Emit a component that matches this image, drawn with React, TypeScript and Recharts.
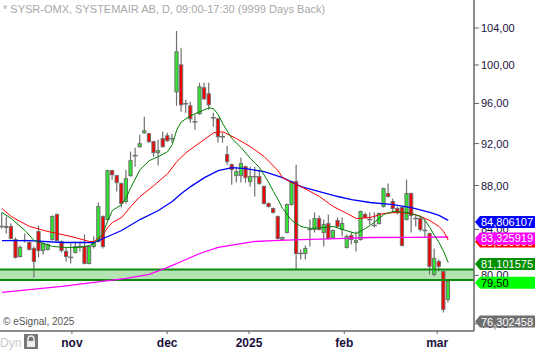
import {
    ComposedChart,
    Bar,
    Line,
    XAxis,
    YAxis,
    ReferenceArea,
    ReferenceLine
} from 'recharts'

// daily candles, SYSR (oct 2024 - mar 2025)
const OPEN = [
    84.26, 84.26, 84.26, 83.10, 81.62, 83.01, 82.84, 82.32, 83.81, 82.14,
    82.23, 83.10, 85.34, 82.93, 82.06, 81.54, 81.97, 82.49, 82.49, 81.02,
    82.49, 82.93, 85.16, 84.88, 89.40, 88.93, 88.18, 86.52, 88.93, 90.83,
    91.70, 93.06, 92.97, 92.19, 91.12, 92.48, 92.77, 92.48, 97.19, 100.01,
    95.97, 95.76, 94.15, 94.96, 97.61, 96.99, 94.55, 94.45, 92.67, 90.93,
    89.97, 88.93, 88.93, 89.78, 88.36, 88.83, 88.83, 87.90, 86.34, 85.88,
    85.16, 83.10, 83.72, 86.24, 88.36, 81.88, 81.88, 83.99, 83.99, 84.97,
    83.72, 84.52, 83.28, 84.79, 83.99, 82.41, 83.46, 82.84, 83.10, 85.34,
    84.88, 84.35, 84.52, 86.06, 87.25, 86.52, 85.88, 85.97, 84.88, 87.25,
    84.97, 84.97, 83.90, 83.63, 80.08, 81.19, 80.34, 77.99
]
const HIGH = [
    85.52, 85.16, 84.52, 83.28, 82.58, 83.63, 83.01, 82.49, 84.35, 82.84,
    82.75, 85.25, 85.43, 83.01, 82.41, 82.75, 82.93, 82.93, 83.55, 82.58,
    83.37, 86.43, 85.25, 89.49, 89.49, 89.02, 88.27, 89.49, 91.22, 91.60,
    92.87, 94.66, 93.06, 92.28, 92.38, 93.16, 93.06, 92.97, 103.67, 101.83,
    96.37, 96.17, 94.86, 98.12, 98.12, 98.12, 95.06, 94.55, 93.06, 91.80,
    90.07, 89.78, 90.64, 89.88, 89.78, 89.78, 89.49, 87.99, 86.43, 85.97,
    85.25, 83.37, 86.34, 88.46, 89.97, 82.23, 82.58, 84.88, 85.52, 85.25,
    84.88, 85.34, 83.99, 85.06, 85.06, 83.55, 83.72, 83.81, 85.70, 85.52,
    85.52, 85.52, 85.52, 87.81, 88.18, 86.79, 86.06, 86.06, 88.55, 87.34,
    85.25, 85.16, 84.88, 83.72, 82.32, 81.36, 80.42, 79.66
]
const LOW = [
    84.08, 83.63, 83.10, 81.45, 81.54, 82.84, 82.14, 79.83, 81.54, 81.80,
    82.14, 83.01, 82.93, 81.97, 81.19, 81.02, 81.88, 82.06, 80.94, 80.94,
    82.32, 82.84, 82.32, 84.79, 88.55, 87.44, 85.97, 86.34, 88.83, 89.78,
    91.60, 92.97, 92.09, 90.74, 89.88, 91.60, 92.19, 92.09, 95.76, 95.16,
    95.06, 94.05, 93.36, 94.86, 96.37, 95.36, 93.66, 92.09, 92.09, 89.97,
    88.08, 88.27, 88.27, 88.27, 87.90, 86.98, 88.08, 86.24, 85.97, 85.43,
    83.10, 83.01, 83.63, 86.15, 80.51, 81.36, 81.36, 82.49, 83.72, 83.90,
    82.49, 83.10, 83.19, 84.17, 83.37, 82.32, 82.67, 82.06, 83.01, 84.97,
    84.43, 84.17, 84.43, 85.97, 86.88, 85.52, 85.34, 82.49, 84.79, 83.72,
    84.26, 83.81, 83.28, 80.08, 79.91, 80.34, 76.92, 77.74
]
const CLOSE = [
    84.26, 84.22, 83.19, 81.54, 82.41, 83.01, 82.23, 81.19, 82.14, 82.75,
    82.67, 85.16, 83.01, 82.14, 81.62, 81.54, 82.49, 82.49, 81.02, 82.49,
    82.75, 86.06, 82.49, 89.40, 89.02, 88.27, 86.34, 88.64, 90.35, 90.83,
    91.99, 93.26, 92.19, 91.12, 91.31, 91.70, 92.28, 92.48, 101.40, 95.86,
    95.97, 94.45, 94.15, 97.71, 96.47, 95.86, 94.55, 92.67, 92.67, 90.26,
    89.49, 89.30, 90.07, 88.74, 88.83, 88.83, 88.18, 86.34, 86.06, 85.52,
    83.19, 83.28, 86.24, 88.36, 81.88, 81.88, 82.32, 83.99, 84.97, 83.99,
    84.43, 83.19, 83.90, 84.26, 84.52, 83.37, 83.10, 83.01, 85.61, 85.06,
    84.88, 84.35, 85.43, 87.71, 86.98, 85.88, 85.52, 82.58, 87.25, 85.25,
    84.97, 83.99, 83.90, 80.77, 81.45, 80.77, 77.17, 79.50
]

// moving averages as [candle index, value]
const MA_FAST = [
    [0, 85.52], [2, 84.97], [5, 83.9], [7, 83.01], [9, 82.75], [11, 82.49], [14, 82.41],
    [17, 82.41], [19, 82.58], [20, 82.75], [21, 83.1], [22, 83.72], [23, 84.79], [24, 85.7],
    [26, 86.24], [27, 86.88], [28, 87.81], [30, 89.49], [32, 90.35], [34, 90.74], [36, 91.22],
    [37, 91.9], [38, 93.36], [39, 94.15], [41, 94.76], [43, 95.16], [45, 95.56], [46, 95.46],
    [47, 94.86], [48, 93.95], [50, 92.48], [52, 91.6], [54, 90.55], [56, 89.68], [58, 88.27],
    [59, 87.44], [60, 86.7], [61, 85.88], [63, 84.79], [65, 84.26], [67, 84.08], [70, 84.17],
    [72, 84.26], [74, 83.99], [77, 83.63], [79, 84.08], [80, 84.35], [82, 84.97], [83, 85.34],
    [85, 85.61], [88, 85.52], [91, 85.16], [92, 84.79], [93, 84.17], [94, 83.46], [95, 82.84],
    [96, 82.06], [97, 81.101575]
]
const MA_MID = [
    [0, 85.88], [2, 85.16], [4, 84.7], [6, 84.26], [10, 83.81], [15, 83.37], [19, 82.93],
    [20, 82.93], [22, 83.55], [23, 84.17], [24, 84.61], [26, 85.06], [28, 86.06], [30, 86.98],
    [33, 87.99], [36, 89.11], [38, 90.26], [40, 91.12], [43, 92.09], [46, 93.06], [48, 93.16],
    [51, 92.48], [54, 91.7], [57, 90.74], [60, 89.4], [61, 88.74], [63, 88.27], [65, 87.9],
    [69, 86.98], [72, 86.06], [75, 85.43], [77, 84.97], [80, 85.06], [83, 85.43], [86, 85.52],
    [89, 85.43], [91, 85.16], [93, 84.79], [95, 84.26], [96, 83.81], [97, 83.05]
]
const MA_SLOW = [
    [0, 83.01], [6, 83.01], [13, 82.84], [20, 82.84], [23, 83.37], [26, 83.9], [30, 84.88],
    [34, 85.7], [37, 86.52], [39, 87.25], [41, 87.9], [44, 88.74], [47, 89.4], [50, 89.68],
    [53, 89.59], [57, 89.3], [61, 88.74], [65, 87.9], [69, 87.44], [73, 86.98], [76, 86.7],
    [80, 86.43], [85, 86.24], [89, 85.97], [93, 85.52], [95, 85.25], [97, 84.806107]
]
const MA_LONG = [
    [0, 78.57], [13, 79.07], [27, 79.74], [32, 80.08], [36, 80.68], [39, 81.19], [43, 81.88],
    [47, 82.41], [51, 82.67], [55, 82.93], [59, 83.01], [65, 83.1], [73, 83.19], [80, 83.28],
    [89, 83.3], [97, 83.325919]
]

const MONTH_LABELS = ['nov', 'dec', '2025', 'feb', 'mar']
const MONTH_TICKS = [15.2, 35.9, 53.7, 74.4, 94.6]
const PRICE_TICKS = [76, 80, 84, 88, 92, 96, 100, 104]
const ZONE = [79.62, 80.51]
const LAST_PRICE = 79.5
const LOW_MARK = 76.302458

const X_DOMAIN = [-0.435, 102.6]
const Y_DOMAIN = [75.42, 107.13]

const GREEN_BODY = '#2ee82e'
const RED_BODY = '#f40000'
const EDGE = '#707070'
const AXIS_TEXT = '#1a0f3c'

const toMap = (pairs: number[][]) => new Map(pairs.map(([i, v]) => [i, v]))
const fastMap = toMap(MA_FAST)
const midMap = toMap(MA_MID)
const slowMap = toMap(MA_SLOW)
const longMap = toMap(MA_LONG)

const chartData = OPEN.map((o, i) => ({
    i,
    open: o,
    high: HIGH[i],
    low: LOW[i],
    close: CLOSE[i],
    fast: fastMap.get(i) ?? null,
    mid: midMap.get(i) ?? null,
    slow: slowMap.get(i) ?? null,
    long: longMap.get(i) ?? null
}))

const lastOf = (pairs: number[][]) => pairs[pairs.length - 1][1]
const fmt = (v: number, d: number) => v.toFixed(d).replace('.', ',')

const Candle = (props: any) => {
    const { x, y, width, height, payload } = props
    if (!payload) return null
    const { open, close, high, low } = payload
    const cx = x + width / 2
    // the y axis is logarithmic, so place open/close inside the high-low bar in log space
    const span = Math.log(high) - Math.log(low)
    const py = (v: number) => y + (height * (Math.log(high) - Math.log(v))) / span
    const top = py(Math.max(open, close))
    const bot = py(Math.min(open, close))
    const doji = Math.abs(open - close) < 0.005
    return (
        <g>
            <line x1={cx} x2={cx} y1={py(high)} y2={py(low)} stroke={EDGE} strokeWidth={1.2} />
            {doji ? (
                <line x1={cx - 2.5} x2={cx + 2.5} y1={top} y2={top} stroke={EDGE} strokeWidth={1.5} />
            ) : (
                <rect
                    x={cx - 1.6}
                    y={top}
                    width={3.2}
                    height={Math.max(bot - top, 1)}
                    fill={close > open ? GREEN_BODY : RED_BODY}
                    stroke={EDGE}
                    strokeWidth={1}
                />
            )}
        </g>
    )
}

// last-value tags; they go after the price ticks so they are drawn on top of them
const tags = [
    { value: LOW_MARK, digits: 6, bg: '#6f6f6f', fg: '#ffffff' },
    { value: LAST_PRICE, digits: 2, bg: '#00ff00', fg: '#000000' },
    { value: lastOf(MA_FAST), digits: 6, bg: '#009000', fg: '#ffffff' },
    { value: lastOf(MA_MID), digits: 6, bg: '#ff0000', fg: '#ffffff' },
    { value: lastOf(MA_LONG), digits: 6, bg: '#ff00ff', fg: '#ffffff' },
    { value: lastOf(MA_SLOW), digits: 6, bg: '#0000ff', fg: '#ffffff' }
]
const tagByValue = new Map(tags.map((t) => [t.value, t]))
const Y_TICKS = [...PRICE_TICKS, ...tags.map((t) => t.value)]

const PriceTick = (props: any) => {
    const { x, y, payload } = props
    const v = payload?.value
    const axisX = x - 7
    const t = tagByValue.get(v)
    if (!t) {
        return (
            <g>
                <line x1={axisX} x2={axisX + 5} y1={y} y2={y} stroke="#666" />
                <text x={x} y={y + 4} fill={AXIS_TEXT} fontSize={11} fontFamily='"Liberation Sans", Arial, sans-serif'>
                    {fmt(v, 2)}
                </text>
            </g>
        )
    }
    const ax = axisX + 1
    const cy = y + 1.5
    const pts = `${ax},${cy} ${ax + 5},${cy - 6} 535,${cy - 6} 535,${cy + 6} ${ax + 5},${cy + 6}`
    return (
        <g>
            <polygon points={pts} fill={t.bg} />
            <text x={ax + 6} y={cy + 4} fill={t.fg} fontSize={11} fontFamily='"Liberation Sans", Arial, sans-serif'>
                {fmt(t.value, t.digits)}
            </text>
        </g>
    )
}

export default function App() {
    return (
        <div
            style={{
                position: 'absolute',
                left: 0,
                top: 0,
                width: 535,
                height: 351,
                background: '#fff',
                fontFamily: '"Liberation Sans", Arial, sans-serif'
            }}
        >
            <ComposedChart
                width={535}
                height={351}
                data={chartData}
                margin={{ top: 0, right: 0, bottom: 0, left: 0 }}
            >
                <XAxis
                    type="number"
                    dataKey="i"
                    domain={X_DOMAIN}
                    allowDataOverflow
                    ticks={MONTH_TICKS}
                    interval={0}
                    tickFormatter={(v) => MONTH_LABELS[MONTH_TICKS.indexOf(v)] ?? ''}
                    height={20}
                    axisLine={{ stroke: '#666', strokeWidth: 1.5 }}
                    tickLine={{ stroke: '#666' }}
                    tickSize={3}
                    tickMargin={4}
                    tick={{ fill: AXIS_TEXT, fontSize: 12, fontWeight: 'bold' }}
                />
                <YAxis
                    orientation="right"
                    scale="log"
                    domain={Y_DOMAIN}
                    allowDataOverflow
                    ticks={Y_TICKS}
                    interval={0}
                    width={61}
                    axisLine={{ stroke: '#666', strokeWidth: 1.5 }}
                    tickLine={false}
                    tickSize={5}
                    tickMargin={2}
                    tick={<PriceTick />}
                />

                <ReferenceArea y1={ZONE[0]} y2={ZONE[1]} fill="#b4e3b4" fillOpacity={1} stroke="none" />
                <ReferenceLine y={ZONE[1]} stroke="#0c8a0c" strokeWidth={2} />
                <ReferenceLine y={ZONE[0]} stroke="#0c8a0c" strokeWidth={2} />

                <Line type="linear" dataKey="long" stroke="#ff00ff" strokeWidth={1.3} dot={false} activeDot={false} connectNulls isAnimationActive={false} />
                <Line type="linear" dataKey="slow" stroke="#0000ff" strokeWidth={1.3} dot={false} activeDot={false} connectNulls isAnimationActive={false} />
                <Line type="linear" dataKey="mid" stroke="#ff0000" strokeWidth={1} dot={false} activeDot={false} connectNulls isAnimationActive={false} />
                <Line type="linear" dataKey="fast" stroke="#008000" strokeWidth={1} dot={false} activeDot={false} connectNulls isAnimationActive={false} />

                <Bar
                    dataKey={(d: any) => [d.low, d.high]}
                    shape={<Candle />}
                    barSize={4}
                    isAnimationActive={false}
                />
            </ComposedChart>

            <div style={{ position: 'absolute', left: 3, top: 3, fontSize: 11, color: '#a8a8a8', whiteSpace: 'nowrap' }}>
                * SYSR-OMX, SYSTEMAIR AB, D, 09:00-17:30 (9999 Days Back)
            </div>
            <div style={{ position: 'absolute', left: 3, top: 316, fontSize: 10, color: '#555' }}>
                © eSignal, 2025
            </div>
            <div style={{ position: 'absolute', left: 0, top: 336, fontSize: 12, color: '#c8c8c8' }}>
                Dyn
            </div>
            <svg style={{ position: 'absolute', left: 24, top: 334 }} width={14} height={15}>
                <rect x={0} y={0} width={14} height={15} fill="#777" />
                <path d="M4 7 V5 a3 3 0 0 1 6 0 V7" stroke="#eee" strokeWidth={1.4} fill="none" />
                <rect x={3} y={7} width={8} height={6} fill="#eee" />
            </svg>
        </div>
    )
}
